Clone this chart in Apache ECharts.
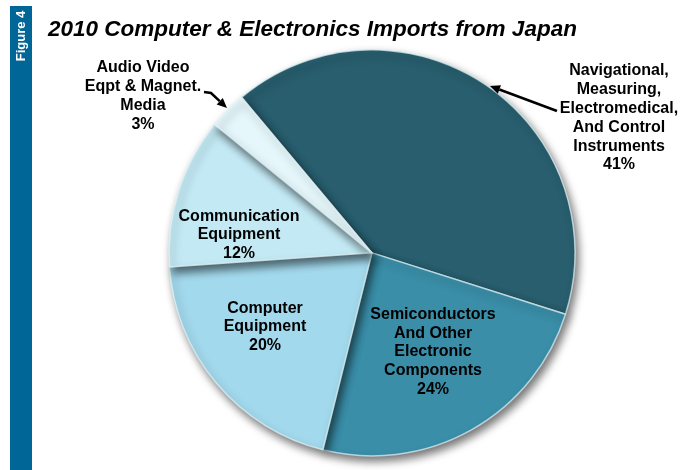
<!DOCTYPE html>
<html>
<head>
<meta charset="utf-8">
<script src="https://cdn.jsdelivr.net/npm/echarts@6/dist/echarts.min.js"></script>
<style>
  html, body { margin: 0; padding: 0; background: #ffffff; }
  #chart { width: 694px; height: 470px; }
</style>
</head>
<body>
<div id="chart"></div>
<script>
// Shares of 2010 computer & electronics imports from Japan (percent)
const categories = [
  'Navigational,\nMeasuring,\nElectromedical,\nAnd Control\nInstruments',
  'Semiconductors\nAnd Other\nElectronic\nComponents',
  'Computer\nEquipment',
  'Communication\nEquipment',
  'Audio Video\nEqpt & Magnet.\nMedia'
];
const shares = [41, 24, 20, 12, 3];

// Slice fills, same order as the categories
const sliceColors = ['#285e6e', '#3a8ea8', '#a2d9ec', '#c3e9f4', '#e5f7fb'];

// Where each label block is centred (px)
const labelSpots = [
  { x: 619, y: 118 },
  { x: 433, y: 352 },
  { x: 265, y: 327 },
  { x: 239, y: 235 },
  { x: 143, y: 96 }
];

const chart = echarts.init(document.getElementById('chart'), null, { renderer: 'canvas' });

const labelFont = {
  color: '#000000',
  fontFamily: '"Liberation Sans", Arial, sans-serif',
  fontWeight: 'bold',
  fontSize: 16,
  lineHeight: 18.8
};

const pieData = categories.map((name, i) => ({
  name: name,
  value: shares[i],
  itemStyle: { color: sliceColors[i] }
}));

// Arrow helper: shaft plus filled head at the tip
function arrow(points) {
  const tip = points[points.length - 1];
  const prev = points[points.length - 2];
  const dx = tip[0] - prev[0], dy = tip[1] - prev[1];
  const len = Math.hypot(dx, dy);
  const ux = dx / len, uy = dy / len;
  const headLen = 10, halfW = 4.5;
  const bx = tip[0] - ux * headLen, by = tip[1] - uy * headLen;
  const shaft = points.slice(0, -1).concat([[bx, by]]);
  return [
    { type: 'polyline', shape: { points: shaft }, style: { stroke: '#000', lineWidth: 2.5, fill: null }, z: 20 },
    { type: 'polygon', shape: { points: [tip, [bx - uy * halfW, by + ux * halfW], [bx + uy * halfW, by - ux * halfW]] }, style: { fill: '#000' }, z: 20 }
  ];
}

const option = {
  backgroundColor: '#ffffff',
  animation: false,
  title: {
    text: '2010 Computer & Electronics Imports from Japan',
    left: 43,
    top: 13,
    textStyle: {
      fontFamily: '"Liberation Sans", Arial, sans-serif',
      fontStyle: 'italic',
      fontWeight: 'bold',
      fontSize: 22.5,
      color: '#000000'
    }
  },
  graphic: [
    { type: 'rect', shape: { x: 10, y: 6, width: 22, height: 464 }, style: { fill: '#006597' }, z: 1 },
    {
      type: 'text',
      x: 21, y: 36,
      rotation: Math.PI / 2,
      style: {
        text: 'Figure 4',
        fill: '#ffffff',
        font: 'bold 13px "Liberation Sans", Arial, sans-serif',
        align: 'center',
        verticalAlign: 'middle'
      },
      z: 2
    }
  ].concat(arrow([[557, 111], [490, 86]]))
   .concat(arrow([[204, 92], [211, 93], [227, 108]])),
  series: [{
    type: 'pie',
    center: ['53.6%', '53.8%'],
    radius: 203,
    startAngle: 130,
    clockwise: true,
    avoidLabelOverlap: false,
    data: pieData,
    itemStyle: {
      borderColor: 'rgba(225,245,250,0.7)',
      borderWidth: 1.5,
      shadowBlur: 9,
      shadowOffsetX: 3,
      shadowOffsetY: 5,
      shadowColor: 'rgba(0,0,0,0.55)'
    },
    label: Object.assign({
      show: true,
      position: 'inside',
      formatter: '{b}\n{c}%',
      align: 'center'
    }, labelFont),
    labelLine: { show: false },
    emphasis: { disabled: true },
    labelLayout: function (params) {
      const spot = labelSpots[params.dataIndex];
      return { x: spot.x, y: spot.y, align: 'center', verticalAlign: 'middle' };
    }
  }]
};

chart.setOption(option);
</script>
</body>
</html>
